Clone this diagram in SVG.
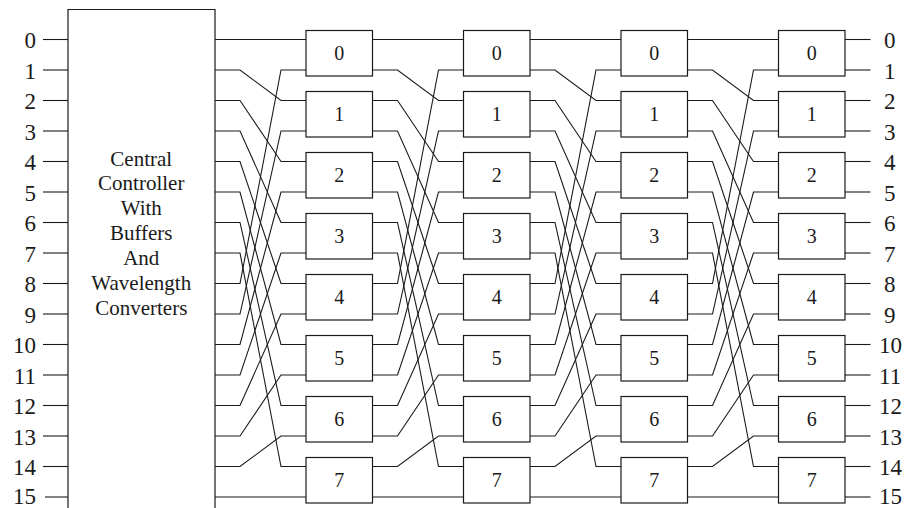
<svg xmlns="http://www.w3.org/2000/svg" xmlns:xlink="http://www.w3.org/1999/xlink" width="911" height="508" viewBox="0 0 911 508">
<style>
.w{fill:none;stroke:#1a1a1a;stroke-width:1.1}
.box{fill:#fff;stroke:#1a1a1a;stroke-width:1.2}
.lbl{font-family:"Liberation Serif","Times New Roman",serif;font-size:23px;fill:#1a1a1a}
.bn{font-family:"Liberation Serif","Times New Roman",serif;font-size:20px;fill:#1a1a1a;text-anchor:middle}
.ct{font-family:"Liberation Serif","Times New Roman",serif;font-size:21px;fill:#1a1a1a;text-anchor:middle}
</style>
<defs>
<g id="shuffle" class="w">
<polyline points="0,39.5 91,39.5"/>
<polyline points="0,70 25,70 66,100.5 91,100.5"/>
<polyline points="0,100.5 25,100.5 66,161.5 91,161.5"/>
<polyline points="0,131 25,131 66,222.5 91,222.5"/>
<polyline points="0,161.5 25,161.5 66,283.5 91,283.5"/>
<polyline points="0,192 25,192 66,344.5 91,344.5"/>
<polyline points="0,222.5 25,222.5 66,405.5 91,405.5"/>
<polyline points="0,253 25,253 66,466.5 91,466.5"/>
<polyline points="0,283.5 25,283.5 66,70 91,70"/>
<polyline points="0,314 25,314 66,131 91,131"/>
<polyline points="0,344.5 25,344.5 66,192 91,192"/>
<polyline points="0,375 25,375 66,253 91,253"/>
<polyline points="0,405.5 25,405.5 66,314 91,314"/>
<polyline points="0,436 25,436 66,375 91,375"/>
<polyline points="0,466.5 25,466.5 66,436 91,436"/>
<polyline points="0,497 91,497"/>
</g>
<rect id="sw" class="box" width="66.5" height="45.5"/>
</defs>

<g id="connectors">
<g id="input-ticks" class="w">
<line x1="43" y1="39.5" x2="68" y2="39.5"/>
<line x1="43" y1="70" x2="68" y2="70"/>
<line x1="43" y1="100.5" x2="68" y2="100.5"/>
<line x1="43" y1="131" x2="68" y2="131"/>
<line x1="43" y1="161.5" x2="68" y2="161.5"/>
<line x1="43" y1="192" x2="68" y2="192"/>
<line x1="43" y1="222.5" x2="68" y2="222.5"/>
<line x1="43" y1="253" x2="68" y2="253"/>
<line x1="43" y1="283.5" x2="68" y2="283.5"/>
<line x1="43" y1="314" x2="68" y2="314"/>
<line x1="43" y1="344.5" x2="68" y2="344.5"/>
<line x1="43" y1="375" x2="68" y2="375"/>
<line x1="43" y1="405.5" x2="68" y2="405.5"/>
<line x1="43" y1="436" x2="68" y2="436"/>
<line x1="43" y1="466.5" x2="68" y2="466.5"/>
<line x1="45" y1="497" x2="71" y2="497"/>
</g>
<use xlink:href="#shuffle" href="#shuffle" x="215" y="0"/>
<use xlink:href="#shuffle" href="#shuffle" x="372.5" y="0"/>
<use xlink:href="#shuffle" href="#shuffle" x="530" y="0"/>
<use xlink:href="#shuffle" href="#shuffle" x="687.5" y="0"/>
<g id="output-ticks" class="w">
<line x1="845" y1="39.5" x2="870.5" y2="39.5"/>
<line x1="845" y1="70" x2="870.5" y2="70"/>
<line x1="845" y1="100.5" x2="870.5" y2="100.5"/>
<line x1="845" y1="131" x2="870.5" y2="131"/>
<line x1="845" y1="161.5" x2="870.5" y2="161.5"/>
<line x1="845" y1="192" x2="870.5" y2="192"/>
<line x1="845" y1="222.5" x2="870.5" y2="222.5"/>
<line x1="845" y1="253" x2="870.5" y2="253"/>
<line x1="845" y1="283.5" x2="870.5" y2="283.5"/>
<line x1="845" y1="314" x2="870.5" y2="314"/>
<line x1="845" y1="344.5" x2="870.5" y2="344.5"/>
<line x1="845" y1="375" x2="870.5" y2="375"/>
<line x1="845" y1="405.5" x2="870.5" y2="405.5"/>
<line x1="845" y1="436" x2="870.5" y2="436"/>
<line x1="845" y1="466.5" x2="870.5" y2="466.5"/>
<line x1="845" y1="497" x2="870.5" y2="497"/>
</g>
</g>

<g id="controller">
<path class="box" d="M68,512 V9.5 H215 V512"/>
<text class="ct" x="141.25" y="165.5">Central</text>
<text class="ct" x="141.25" y="190.4">Controller</text>
<text class="ct" x="141.25" y="215.3">With</text>
<text class="ct" x="141.25" y="240.2">Buffers</text>
<text class="ct" x="141.25" y="265.1">And</text>
<text class="ct" x="141.25" y="290">Wavelength</text>
<text class="ct" x="141.25" y="314.9">Converters</text>
</g>

<g id="input-labels" class="lbl" text-anchor="end">
<text x="36" y="48">0</text>
<text x="36" y="78.5">1</text>
<text x="36" y="109">2</text>
<text x="36" y="139.5">3</text>
<text x="36" y="170">4</text>
<text x="36" y="200.5">5</text>
<text x="36" y="231">6</text>
<text x="36" y="261.5">7</text>
<text x="36" y="292">8</text>
<text x="36" y="322.5">9</text>
<text x="36" y="353">10</text>
<text x="36" y="383.5">11</text>
<text x="36" y="414">12</text>
<text x="36" y="444.5">13</text>
<text x="36" y="474.5">14</text>
<text x="36" y="503.5">15</text>
</g>

<g id="output-labels" class="lbl">
<text x="884" y="48">0</text>
<text x="884" y="78.5">1</text>
<text x="884" y="109">2</text>
<text x="884" y="139.5">3</text>
<text x="884" y="170">4</text>
<text x="884" y="200.5">5</text>
<text x="884" y="231">6</text>
<text x="884" y="261.5">7</text>
<text x="884" y="292">8</text>
<text x="884" y="322.5">9</text>
<text x="879" y="353">10</text>
<text x="879" y="383.5">11</text>
<text x="879" y="414">12</text>
<text x="879" y="444.5">13</text>
<text x="879" y="474.5">14</text>
<text x="879" y="503.5">15</text>
</g>

<g id="stage1">
<g id="s1-0"><use xlink:href="#sw" href="#sw" x="306" y="30.5"/><text class="bn" x="339.25" y="60">0</text></g>
<g id="s1-1"><use xlink:href="#sw" href="#sw" x="306" y="91.5"/><text class="bn" x="339.25" y="121">1</text></g>
<g id="s1-2"><use xlink:href="#sw" href="#sw" x="306" y="152.5"/><text class="bn" x="339.25" y="182">2</text></g>
<g id="s1-3"><use xlink:href="#sw" href="#sw" x="306" y="213.5"/><text class="bn" x="339.25" y="243">3</text></g>
<g id="s1-4"><use xlink:href="#sw" href="#sw" x="306" y="274.5"/><text class="bn" x="339.25" y="304">4</text></g>
<g id="s1-5"><use xlink:href="#sw" href="#sw" x="306" y="335.5"/><text class="bn" x="339.25" y="365">5</text></g>
<g id="s1-6"><use xlink:href="#sw" href="#sw" x="306" y="396.5"/><text class="bn" x="339.25" y="426">6</text></g>
<g id="s1-7"><use xlink:href="#sw" href="#sw" x="306" y="457.5"/><text class="bn" x="339.25" y="487">7</text></g>
</g>
<g id="stage2">
<g id="s2-0"><use xlink:href="#sw" href="#sw" x="463.5" y="30.5"/><text class="bn" x="496.75" y="60">0</text></g>
<g id="s2-1"><use xlink:href="#sw" href="#sw" x="463.5" y="91.5"/><text class="bn" x="496.75" y="121">1</text></g>
<g id="s2-2"><use xlink:href="#sw" href="#sw" x="463.5" y="152.5"/><text class="bn" x="496.75" y="182">2</text></g>
<g id="s2-3"><use xlink:href="#sw" href="#sw" x="463.5" y="213.5"/><text class="bn" x="496.75" y="243">3</text></g>
<g id="s2-4"><use xlink:href="#sw" href="#sw" x="463.5" y="274.5"/><text class="bn" x="496.75" y="304">4</text></g>
<g id="s2-5"><use xlink:href="#sw" href="#sw" x="463.5" y="335.5"/><text class="bn" x="496.75" y="365">5</text></g>
<g id="s2-6"><use xlink:href="#sw" href="#sw" x="463.5" y="396.5"/><text class="bn" x="496.75" y="426">6</text></g>
<g id="s2-7"><use xlink:href="#sw" href="#sw" x="463.5" y="457.5"/><text class="bn" x="496.75" y="487">7</text></g>
</g>
<g id="stage3">
<g id="s3-0"><use xlink:href="#sw" href="#sw" x="621" y="30.5"/><text class="bn" x="654.25" y="60">0</text></g>
<g id="s3-1"><use xlink:href="#sw" href="#sw" x="621" y="91.5"/><text class="bn" x="654.25" y="121">1</text></g>
<g id="s3-2"><use xlink:href="#sw" href="#sw" x="621" y="152.5"/><text class="bn" x="654.25" y="182">2</text></g>
<g id="s3-3"><use xlink:href="#sw" href="#sw" x="621" y="213.5"/><text class="bn" x="654.25" y="243">3</text></g>
<g id="s3-4"><use xlink:href="#sw" href="#sw" x="621" y="274.5"/><text class="bn" x="654.25" y="304">4</text></g>
<g id="s3-5"><use xlink:href="#sw" href="#sw" x="621" y="335.5"/><text class="bn" x="654.25" y="365">5</text></g>
<g id="s3-6"><use xlink:href="#sw" href="#sw" x="621" y="396.5"/><text class="bn" x="654.25" y="426">6</text></g>
<g id="s3-7"><use xlink:href="#sw" href="#sw" x="621" y="457.5"/><text class="bn" x="654.25" y="487">7</text></g>
</g>
<g id="stage4">
<g id="s4-0"><use xlink:href="#sw" href="#sw" x="778.5" y="30.5"/><text class="bn" x="811.75" y="60">0</text></g>
<g id="s4-1"><use xlink:href="#sw" href="#sw" x="778.5" y="91.5"/><text class="bn" x="811.75" y="121">1</text></g>
<g id="s4-2"><use xlink:href="#sw" href="#sw" x="778.5" y="152.5"/><text class="bn" x="811.75" y="182">2</text></g>
<g id="s4-3"><use xlink:href="#sw" href="#sw" x="778.5" y="213.5"/><text class="bn" x="811.75" y="243">3</text></g>
<g id="s4-4"><use xlink:href="#sw" href="#sw" x="778.5" y="274.5"/><text class="bn" x="811.75" y="304">4</text></g>
<g id="s4-5"><use xlink:href="#sw" href="#sw" x="778.5" y="335.5"/><text class="bn" x="811.75" y="365">5</text></g>
<g id="s4-6"><use xlink:href="#sw" href="#sw" x="778.5" y="396.5"/><text class="bn" x="811.75" y="426">6</text></g>
<g id="s4-7"><use xlink:href="#sw" href="#sw" x="778.5" y="457.5"/><text class="bn" x="811.75" y="487">7</text></g>
</g>
</svg>
